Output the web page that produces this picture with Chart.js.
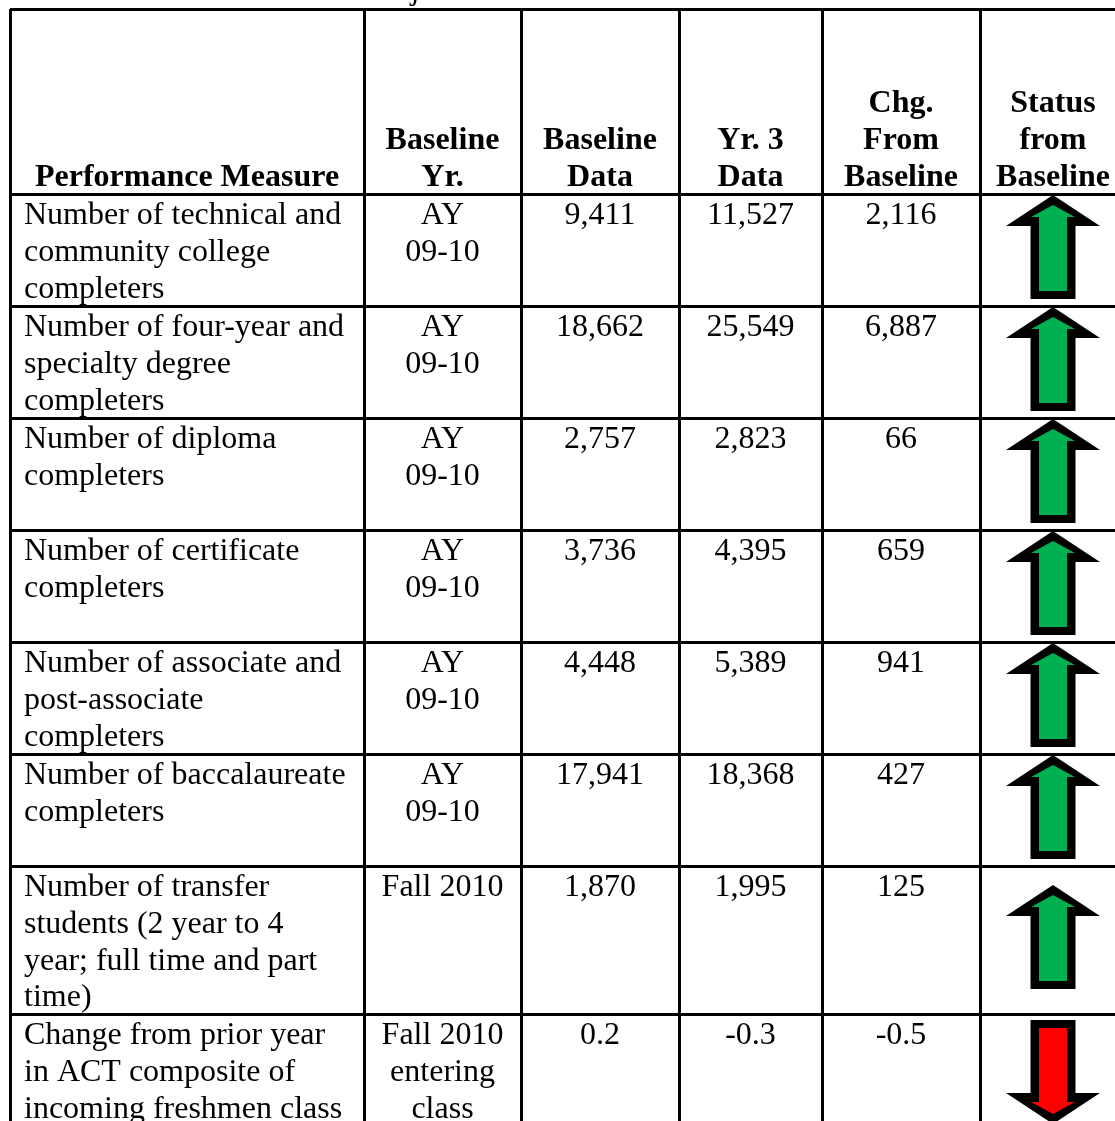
<!DOCTYPE html>
<html><head><meta charset="utf-8">
<script src="https://cdn.jsdelivr.net/npm/chart.js@4.4.1/dist/chart.umd.min.js"></script>
<style>html,body{margin:0;padding:0;background:#fff;overflow:hidden}canvas{display:block}</style>
</head><body>
<canvas id="c" width="1115" height="1121"></canvas>
<script>
// ---------- data ----------
const titleText = "Performance Measures for Objective C.1";
const headers = ["Performance Measure", "Baseline\nYr.", "Baseline\nData", "Yr. 3\nData", "Chg.\nFrom\nBaseline", "Status\nfrom\nBaseline"];
const measures = [
  "Number of technical and\ncommunity college\ncompleters",
  "Number of four-year and\nspecialty degree\ncompleters",
  "Number of diploma\ncompleters",
  "Number of certificate\ncompleters",
  "Number of associate and\npost-associate\ncompleters",
  "Number of baccalaureate\ncompleters",
  "Number of transfer\nstudents (2 year to 4\nyear; full time and part\ntime)",
  "Change from prior year\nin ACT composite of\nincoming freshmen class"
];
const baselineYears = ["AY\n09-10", "AY\n09-10", "AY\n09-10", "AY\n09-10", "AY\n09-10", "AY\n09-10", "Fall 2010", "Fall 2010\nentering\nclass"];
const baselineData = [9411, 18662, 2757, 3736, 4448, 17941, 1870, 0.2];
const year3Data = [11527, 25549, 2823, 4395, 5389, 18368, 1995, -0.3];
const changeFromBaseline = [2116, 6887, 66, 659, 941, 427, 125, -0.5];

// ---------- layout (not data) ----------
const colEdges = [10, 364, 521, 679, 822, 980, 1126];
const rowEdges = [9, 194, 306, 418, 530, 642, 754, 866, 1014, 1126];
const FONT = '"Liberation Serif", "Times New Roman", serif';
const FS = 32, LH = 36.8;

function fmt(v) { return v.toLocaleString('en-US'); }

// arrow point styles
function makeArrow(up, fill) {
  const cv = document.createElement('canvas');
  cv.width = 100; cv.height = 110;
  const g = cv.getContext('2d');
  g.translate(50, 55);
  if (!up) g.scale(1, -1);
  g.fillStyle = '#000';
  g.beginPath();
  g.moveTo(0, -52); g.lineTo(47, -21); g.lineTo(22.5, -21); g.lineTo(22.5, 52);
  g.lineTo(-22.5, 52); g.lineTo(-22.5, -21); g.lineTo(-47, -21); g.closePath(); g.fill();
  g.fillStyle = fill;
  g.beginPath();
  g.moveTo(0, -42); g.lineTo(22, -30); g.lineTo(14, -30); g.lineTo(14, 44);
  g.lineTo(-14, 44); g.lineTo(-14, -30); g.lineTo(-22, -30); g.closePath(); g.fill();
  return cv;
}
const upArrow = makeArrow(true, '#00B050');
const downArrow = makeArrow(false, '#FF0000');

const statusColCenter = (colEdges[5] + colEdges[6]) / 2;
const arrowPoints = changeFromBaseline.map((c, i) => ({
  x: statusColCenter,
  y: (rowEdges[i + 1] + rowEdges[i + 2]) / 2 + (c >= 0 ? -3 : 2),
  dir: c >= 0 ? 1 : -1
}));

const tablePlugin = {
  id: 'tableText',
  afterDraw(chart) {
    const ctx = chart.ctx, xs = chart.scales.x, ys = chart.scales.y;
    ctx.save();
    ctx.fillStyle = '#000';
    ctx.textBaseline = 'alphabetic';
    // title (cut off at top of the page)
    ctx.font = `${FS}px ${FONT}`;
    ctx.textAlign = 'left';
    ctx.fillText(titleText, xs.getPixelForValue(24), ys.getPixelForValue(-1));
    // headers (bottom aligned, bold, centered)
    ctx.font = `bold ${FS}px ${FONT}`;
    ctx.textAlign = 'center';
    const hb = ys.getPixelForValue(rowEdges[1]);
    headers.forEach((h, c) => {
      const lines = h.split('\n');
      const cx = (xs.getPixelForValue(colEdges[c]) + xs.getPixelForValue(colEdges[c + 1])) / 2;
      lines.forEach((ln, k) => {
        ctx.fillText(ln, cx, hb - 8 - (lines.length - 1 - k) * LH);
      });
    });
    // body
    ctx.font = `${FS}px ${FONT}`;
    const cols = [measures, baselineYears, baselineData.map(fmt), year3Data.map(fmt), changeFromBaseline.map(fmt)];
    for (let r = 0; r < measures.length; r++) {
      const top = ys.getPixelForValue(rowEdges[r + 1]);
      cols.forEach((col, c) => {
        const lines = String(col[r]).split('\n');
        let x;
        if (c === 0) { ctx.textAlign = 'left'; x = xs.getPixelForValue(colEdges[0]) + 14; }
        else { ctx.textAlign = 'center'; x = (xs.getPixelForValue(colEdges[c]) + xs.getPixelForValue(colEdges[c + 1])) / 2; }
        lines.forEach((ln, k) => ctx.fillText(ln, x, top + 30 + k * LH));
      });
    }
    ctx.restore();
  }
};

function edgeTicks(edges) {
  return s => { s.ticks = edges.filter(v => v >= s.min && v <= s.max).map(v => ({ value: v })); };
}

new Chart(document.getElementById('c'), {
  type: 'scatter',
  data: {
    datasets: [{
      data: arrowPoints,
      pointStyle: arrowPoints.map(p => p.dir > 0 ? upArrow : downArrow),
      pointRadius: 1,
      pointHoverRadius: 1,
      clip: false
    }]
  },
  options: {
    responsive: false,
    animation: false,
    devicePixelRatio: 1,
    events: [],
    layout: { autoPadding: false, padding: { left: 10, top: 9, right: 0, bottom: 0 } },
    plugins: { legend: { display: false }, tooltip: { enabled: false }, title: { display: false } },
    scales: {
      x: {
        type: 'linear', min: 10, max: 1115,
        ticks: { display: false },
        grid: { drawTicks: false, color: '#000', lineWidth: 3 },
        border: { display: false },
        afterBuildTicks: edgeTicks(colEdges)
      },
      y: {
        type: 'linear', min: 9, max: 1121, reverse: true,
        ticks: { display: false },
        grid: { drawTicks: false, color: '#000', lineWidth: 3 },
        border: { display: false },
        afterBuildTicks: edgeTicks(rowEdges)
      }
    }
  },
  plugins: [tablePlugin]
});
</script>
</body></html>
